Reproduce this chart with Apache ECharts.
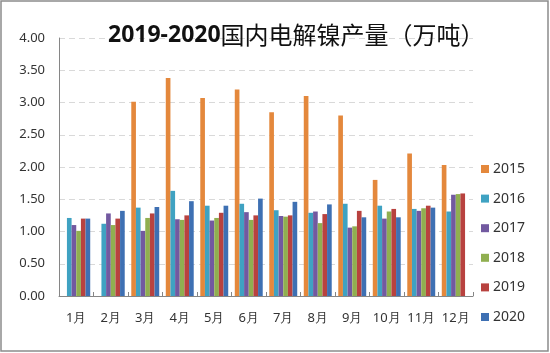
<!DOCTYPE html>
<html>
<head>
<meta charset="utf-8">
<script src="https://cdn.jsdelivr.net/npm/echarts@6/dist/echarts.min.js"></script>
<style>
html, body { margin: 0; padding: 0; background: #fff; }
#main { width: 550px; height: 353px; }
</style>
</head>
<body>
<div id="main"></div>
<script>
var months = ['1月', '2月', '3月', '4月', '5月', '6月', '7月', '8月', '9月', '10月', '11月', '12月'];
var years = ['2015', '2016', '2017', '2018', '2019', '2020'];
var yTicks = [0, 0.5, 1, 1.5, 2, 2.5, 3, 3.5, 4];

var y2015 = [null, null, 3.01, 3.38, 3.07, 3.20, 2.85, 3.10, 2.80, 1.80, 2.21, 2.03];
var y2016 = [1.21, 1.12, 1.37, 1.63, 1.40, 1.43, 1.33, 1.29, 1.43, 1.40, 1.35, 1.31];
var y2017 = [1.10, 1.28, 1.01, 1.19, 1.17, 1.30, 1.24, 1.31, 1.06, 1.20, 1.32, 1.57];
var y2018 = [1.01, 1.10, 1.21, 1.18, 1.21, 1.18, 1.23, 1.13, 1.08, 1.31, 1.36, 1.58];
var y2019 = [1.20, 1.20, 1.28, 1.25, 1.29, 1.25, 1.25, 1.27, 1.32, 1.35, 1.40, 1.59];
var y2020 = [1.20, 1.32, 1.38, 1.47, 1.40, 1.51, 1.46, 1.42, 1.22, 1.22, 1.37, null];

var seriesData = [y2015, y2016, y2017, y2018, y2019, y2020];
var colors = ['#E4883C', '#3FA2C2', '#7259A0', '#90AF50', '#B8423F', '#3E70B3'];

var chart = echarts.init(document.getElementById('main'));

var series = [];
for (var i = 0; i < years.length; i++) {
    series.push({
        name: years[i],
        type: 'bar',
        barGap: '0%',
        barCategoryGap: '19%',
        data: seriesData[i],
        itemStyle: { color: colors[i] }
    });
}

var option = {
    animation: false,
    color: colors,
    title: {
        text: '{a|2019-2020}{b|国内电解镍产量（万吨）}',
        left: 103,
        top: 18,
        textStyle: {
            rich: {
                a: { fontFamily: 'Noto Sans', fontWeight: 'bold', fontSize: 23, color: '#111' },
                b: { fontFamily: 'Noto Sans CJK SC', fontWeight: 'normal', fontSize: 24, color: '#111' }
            }
        }
    },
    graphic: [{
        type: 'rect',
        shape: { x: 1, y: 1, width: 547, height: 350 },
        style: { fill: 'none', stroke: '#8c8c8c', lineWidth: 1.5 },
        silent: true
    }],
    legend: {
        orient: 'vertical',
        left: 476,
        top: 157,
        itemWidth: 8,
        itemHeight: 8,
        itemGap: 15.6,
        icon: 'rect',
        data: years,
        textStyle: {
            fontFamily: 'Noto Sans',
            fontSize: 14,
            color: '#333',
            padding: [0, 0, 0, -1]
        }
    },
    grid: {
        left: 59,
        right: 77,
        top: 38,
        bottom: 57
    },
    xAxis: {
        type: 'category',
        data: months,
        axisLine: { lineStyle: { color: '#868686', width: 1 } },
        axisTick: { show: true, inside: true, length: 4, lineStyle: { color: '#868686' } },
        axisLabel: {
            interval: 0,
            margin: 16,
            fontFamily: 'Noto Sans',
            fontSize: 13,
            color: '#333'
        }
    },
    yAxis: {
        type: 'value',
        min: yTicks[0],
        max: yTicks[yTicks.length - 1],
        interval: 0.5,
        axisLine: { show: true, lineStyle: { color: '#868686', width: 1 } },
        axisTick: { show: false },
        splitLine: {
            show: true,
            lineStyle: { color: '#d9d9d9', type: [6, 4], width: 1 }
        },
        axisLabel: {
            margin: 14,
            fontFamily: 'Noto Sans',
            fontSize: 13,
            color: '#333',
            formatter: function (v) { return v.toFixed(2); }
        }
    },
    series: series
};

chart.setOption(option);
</script>
</body>
</html>
